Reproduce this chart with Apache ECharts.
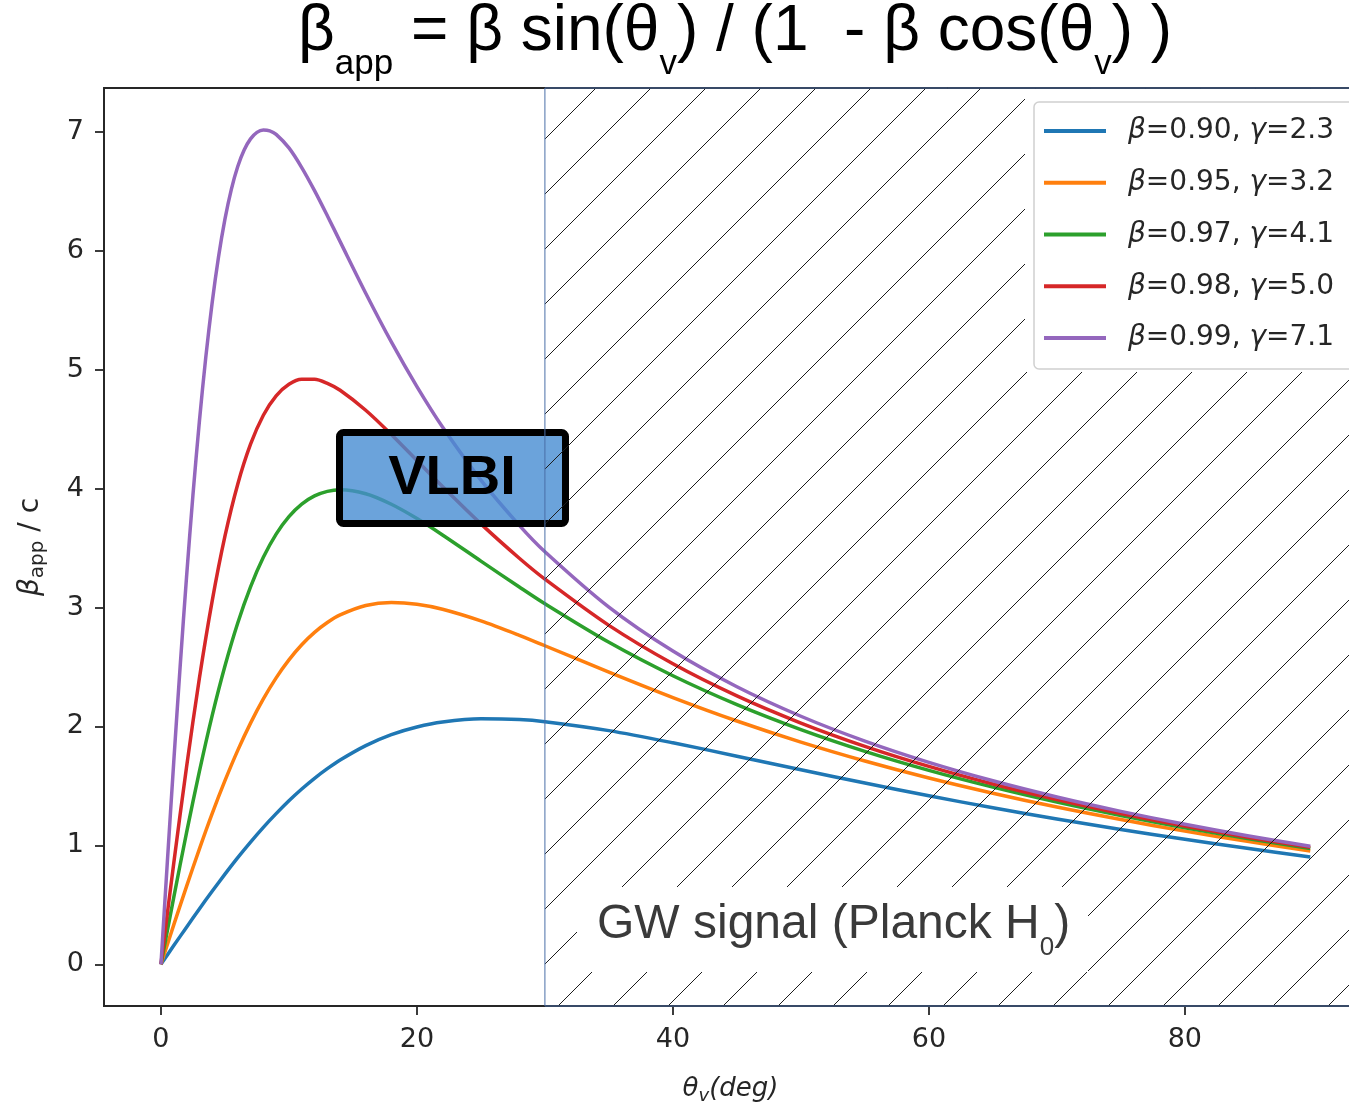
<!DOCTYPE html>
<html><head><meta charset="utf-8">
<script src="https://cdn.jsdelivr.net/npm/echarts@6/dist/echarts.min.js"></script>
<style>html,body{margin:0;padding:0;background:#fff;overflow:hidden}#c{width:1349px;height:1103px}</style>
</head><body><div id="c"></div>
<script>
// ---- data ----
const seriesNames = ['β=0.90, γ=2.3','β=0.95, γ=3.2','β=0.97, γ=4.1','β=0.98, γ=5.0','β=0.99, γ=7.1'];
const thetaMain = [0,1,2,3,4,5,6,7,8,9,10,11,12,13,14,16,18,20,22,25,28,30,35,40,45,50,55,60,65,70,75,80,85,89.8];
const beta090 = [0,0.157,0.312,0.465,0.614,0.758,0.897,1.028,1.152,1.267,1.375,1.474,1.564,1.645,1.718,1.839,1.931,1.995,2.037,2.064,2.058,2.040,1.965,1.863,1.750,1.636,1.524,1.417,1.316,1.222,1.133,1.051,0.973,0.903];
const beta095 = [0,0.331,0.655,0.969,1.267,1.544,1.799,2.028,2.232,2.409,2.560,2.687,2.791,2.874,2.938,3.017,3.042,3.028,2.986,2.888,2.767,2.679,2.457,2.243,2.046,1.869,1.710,1.567,1.439,1.322,1.217,1.120,1.032,0.953];
const beta097 = [0,0.562,1.107,1.620,2.091,2.509,2.871,3.175,3.423,3.618,3.765,3.870,3.939,3.977,3.990,3.957,3.869,3.749,3.611,3.391,3.173,3.032,2.708,2.427,2.184,1.974,1.791,1.631,1.490,1.364,1.251,1.149,1.056,0.973];
const beta098 = [0,0.849,1.660,2.403,3.054,3.600,4.038,4.374,4.618,4.781,4.878,4.920,4.920,4.886,4.828,4.660,4.456,4.237,4.018,3.704,3.415,3.239,2.850,2.527,2.257,2.029,1.833,1.664,1.516,1.385,1.268,1.163,1.067,0.983];
const thetaFine = [0,0.5,1,1.5,2,2.5,3,3.5,4,4.5,5,5.5,6,6.5,7,7.5,8,8.5,9,10,11,12,13,14,16,18,20,22,25,28,30,35,40,45,50,55,60,65,70,75,80,85,89.8];
const beta099 = [0,0.861,1.702,2.506,3.259,3.947,4.563,5.102,5.564,5.951,6.267,6.518,6.710,6.849,6.942,6.997,7.017,7.010,6.980,6.866,6.701,6.507,6.296,6.078,5.644,5.234,4.858,4.518,4.072,3.692,3.470,3.004,2.634,2.334,2.086,1.877,1.698,1.543,1.407,1.286,1.177,1.079,0.993];
const xTicks = [0,20,40,60,80];
const yTicks = [0,1,2,3,4,5,6,7];
const hatchStart = 30;
const X_MIN = -4.45, X_MAX = 93.45, Y_MIN = -0.351, Y_MAX = 7.37;

const colors = ['#1f77b4','#ff7f0e','#2ca02c','#d62728','#9467bd'];
const xs = [thetaMain,thetaMain,thetaMain,thetaMain,thetaFine];
const ys = [beta090,beta095,beta097,beta098,beta099];

function hatchCanvas(){
  const S=55, c=document.createElement('canvas'); c.width=S; c.height=S;
  const g=c.getContext('2d'); g.strokeStyle='#1c1c1c'; g.lineWidth=1;
  for(let k=-1;k<=2;k++){
    const d=24+S*k;
    g.beginPath(); g.moveTo(d+3,-3); g.lineTo(d-S-3,S+3); g.stroke();
  }
  return c;
}

const FONT='DejaVu Sans', TXT='#262626', AX='#262626';
const chart = echarts.init(document.getElementById('c'), null, {renderer:'canvas'});
const lineSeries = seriesNames.map((n,i)=>({
  name:n, type:'line', z:2, showSymbol:false, symbol:'none', smooth:0.3,
  color:colors[i], lineStyle:{width:3.5,color:colors[i], cap:'butt', join:'round'},
  data: xs[i].map((x,j)=>[x, ys[i][j]]), animation:false
}));
lineSeries.push({
  name:'hatch', type:'line', z:4, data:[], animation:false,
  markArea:{silent:true, z:4,
    itemStyle:{color:{image:hatchCanvas(), repeat:'repeat'}, borderColor:'#4a6fa8', borderWidth:1},
    data:[[{xAxis:hatchStart},{xAxis:X_MAX}]]}
});

const axisCommon = {
  axisLine:{show:true, onZero:false, lineStyle:{color:AX, width:1.8}},
  splitLine:{show:false}
};

chart.setOption({
  animation:false,
  title:{
    text:'{m|β}{s|app}{m| = β sin(θ}{s|v}{m|) / (1  - β cos(θ}{s|v}{m|) )}',
    left:298, top:-2.2, padding:0,
    textStyle:{fontWeight:'normal', rich:{
      m:{fontFamily:'Liberation Sans', fontWeight:'normal', fontSize:64, color:'#000', lineHeight:70},
      s:{fontFamily:'Liberation Sans', fontWeight:'normal', fontSize:35, color:'#000', lineHeight:10,
         verticalAlign:'top', padding:[48.6,0,0,0]}
    }}
  },
  grid:{left:104, top:88, right:-8, bottom:97, show:true, borderColor:AX, borderWidth:1.8,
        containLabel:false, outerBoundsMode:'none'},
  xAxis:Object.assign({type:'value', min:X_MIN, max:X_MAX,
    axisTick:{show:true, length:9, lineStyle:{color:AX, width:1.8}, customValues:xTicks},
    axisLabel:{customValues:xTicks, margin:20, fontFamily:FONT, fontSize:27, color:TXT},
    name:'{i|θ}{s|v}{i|(deg)}', nameLocation:'middle', nameGap:67,
    nameTextStyle:{rich:{
      i:{fontFamily:FONT, fontStyle:'italic', fontSize:26, color:TXT, lineHeight:32},
      s:{fontFamily:FONT, fontStyle:'italic', fontSize:18, color:TXT, lineHeight:10, verticalAlign:'top', padding:[14,0,0,0]}
    }}
  }, axisCommon),
  yAxis:Object.assign({type:'value', min:Y_MIN, max:Y_MAX,
    axisTick:{show:true, length:9, lineStyle:{color:AX, width:1.8}, customValues:yTicks},
    axisLabel:{customValues:yTicks, margin:20, fontFamily:FONT, fontSize:27, color:TXT},
    name:'{i|β}{s|app}{n| / c}', nameLocation:'middle', nameGap:56, nameRotate:90,
    nameTextStyle:{rich:{
      i:{fontFamily:FONT, fontStyle:'italic', fontSize:28, color:TXT, lineHeight:34},
      s:{fontFamily:FONT, fontSize:20, color:TXT, lineHeight:10, verticalAlign:'top', padding:[14,0,0,0]},
      n:{fontFamily:FONT, fontSize:28, color:TXT, lineHeight:34}
    }}
  }, axisCommon),
  legend:{
    data:seriesNames, orient:'vertical', left:1034, top:102, z:6,
    padding:[14,20,16,10], itemWidth:62, itemHeight:4, itemGap:21.75, icon:'rect',
    backgroundColor:'#fff', borderColor:'#d0d0d0', borderWidth:1.5, borderRadius:5,
    formatter:n=>'{p| }'+n.replace(/β/g,'{i|β}{t|').replace(/γ/g,'{i|γ}{t|').replace(/(\{t\|[^{]*)/g,'$1}'),
    textStyle:{fontFamily:FONT, fontSize:28, color:TXT, lineHeight:30, rich:{
      p:{width:17, fontSize:28},
      i:{fontFamily:FONT, fontStyle:'italic', fontSize:28, color:TXT, lineHeight:30},
      t:{fontFamily:FONT, fontSize:28, color:TXT, lineHeight:30}
    }}
  },
  graphic:[
    {type:'rect', z:3, shape:{x:339.5, y:432.5, width:226, height:91, r:4},
      style:{fill:'rgba(70,140,210,0.8)', stroke:'#000', lineWidth:7}},
    {type:'text', z:3, style:{text:'VLBI', x:452, y:478.5, align:'center', verticalAlign:'middle',
      font:'bold 56px "Liberation Sans"', fill:'#000'}},
    {type:'rect', z:5, shape:{x:577, y:887, width:511, height:85}, style:{fill:'#fff'}},
    {type:'text', z:5, style:{x:597, y:896.4, verticalAlign:'top', align:'left',
      text:'{a|GW signal (Planck H}{b|0}{a|)}',
      rich:{a:{fontFamily:'Liberation Sans', fontSize:48, fill:'#3a3a3a', lineHeight:56},
            b:{fontFamily:'Liberation Sans', fontSize:26, fill:'#3a3a3a', lineHeight:10, verticalAlign:'top', padding:[38.6,0,0,0]}}}},
    {type:'rect', z:5, shape:{x:1025, y:89, width:330, height:283}, style:{fill:'#fff'}}
  ],
  series:lineSeries
});
</script></body></html>
